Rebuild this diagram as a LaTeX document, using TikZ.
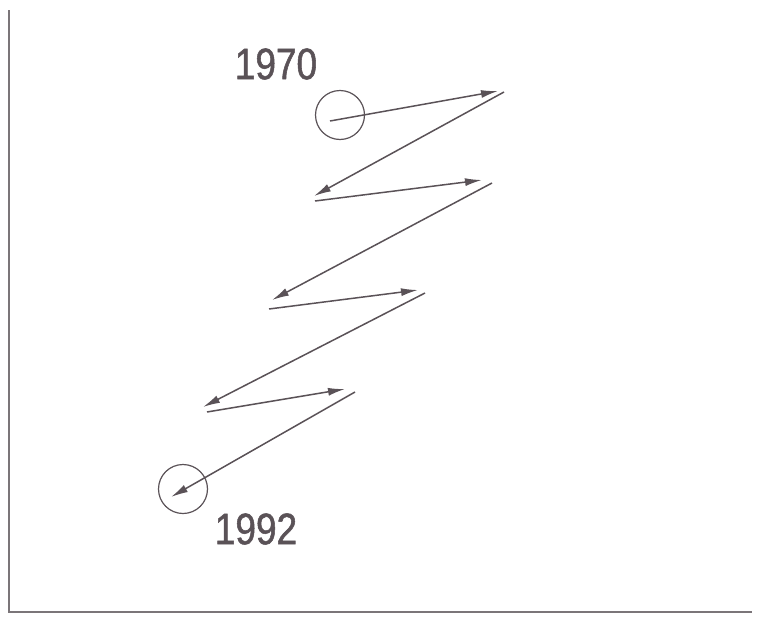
\documentclass[tikz,border=0pt]{standalone}
\usepackage{fontspec}
\setmainfont{Liberation Sans}[FakeStretch=0.84, FakeBold=1.2]
\usetikzlibrary{arrows.meta}
\definecolor{ink}{HTML}{5A5257}
\tikzset{
  zig/.style={draw=ink, line width=1.5pt, -{Latex[length=17pt,width=8pt]}},
  ring/.style={circle, draw=ink, line width=1.2pt, minimum size=49pt, inner sep=0pt},
  yearlabel/.style={text=ink, font=\fontsize{44}{44}\selectfont, inner sep=0pt},
  frameline/.style={draw=ink!80, line width=1.2pt}
}
\begin{document}
\begin{tikzpicture}[x=1pt, y=-1pt]
\useasboundingbox (0,0) rectangle (757,616);
\coordinate (ftop) at (9,10);
\coordinate (fcorner) at (9,612);
\coordinate (fright) at (752,612);
\draw[frameline] (ftop) -- (fcorner) -- (fright);
\node[ring] (c1) at (340,115) {};
\node[ring] (c2) at (183,489) {};
\node[yearlabel] (y1970) at (276,64) {1970};
\node[yearlabel] (y1992) at (256,529) {1992};
\coordinate (s1) at (330,121);
\coordinate (e1) at (498,91);
\coordinate (s2) at (504,92);
\coordinate (e2) at (314,196);
\coordinate (s3) at (315,201);
\coordinate (e3) at (482,180);
\coordinate (s4) at (492,183);
\coordinate (e4) at (272,300);
\coordinate (s5) at (269,309);
\coordinate (e5) at (418,290);
\coordinate (s6) at (425,293);
\coordinate (e6) at (203,407);
\coordinate (s7) at (207,412);
\coordinate (e7) at (345,389);
\coordinate (s8) at (355,392);
\coordinate (e8) at (171,497);
\draw[zig] (s1) -- (e1);
\draw[zig] (s2) -- (e2);
\draw[zig] (s3) -- (e3);
\draw[zig] (s4) -- (e4);
\draw[zig] (s5) -- (e5);
\draw[zig] (s6) -- (e6);
\draw[zig] (s7) -- (e7);
\draw[zig] (s8) -- (e8);
\end{tikzpicture}
\end{document}
